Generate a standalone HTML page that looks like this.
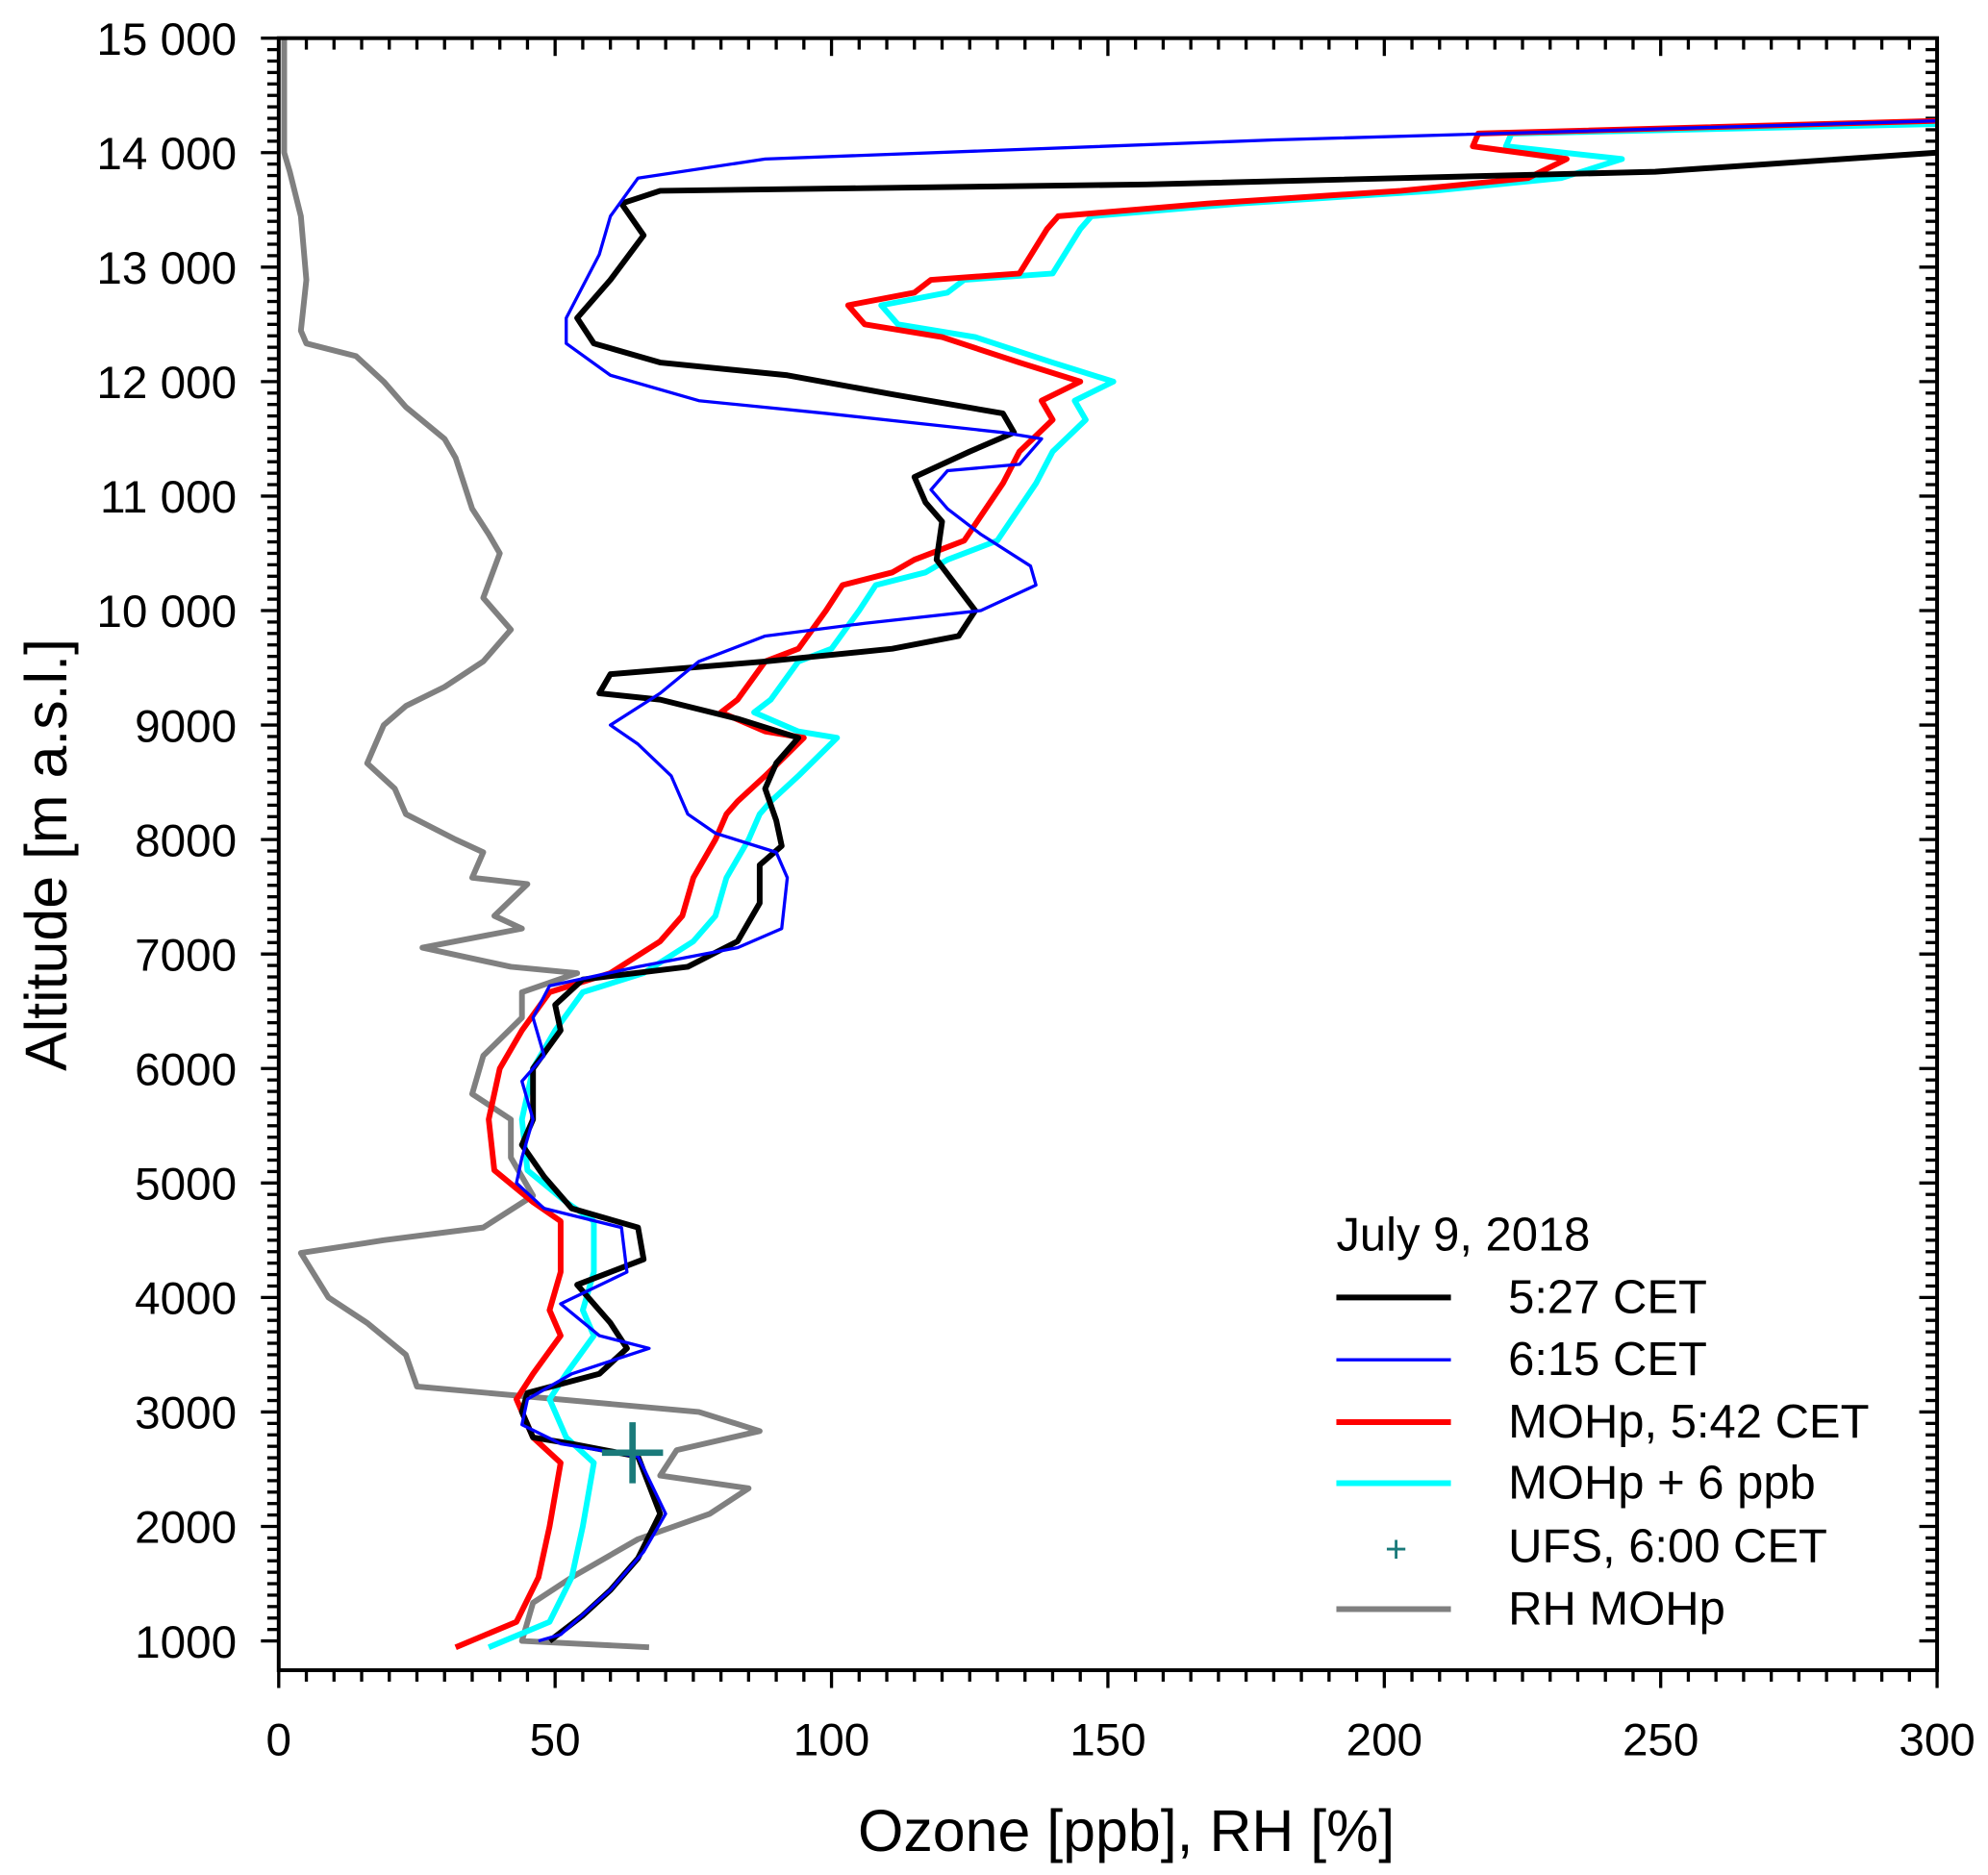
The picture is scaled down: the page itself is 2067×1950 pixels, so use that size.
<!DOCTYPE html>
<html><head><meta charset="utf-8"><style>
html,body{margin:0;padding:0;background:#fff;}
svg{display:block;font-family:"Liberation Sans",Arial,sans-serif;}
</style></head><body>
<svg id="chart" width="2067" height="1950" viewBox="0 0 1562 1474" preserveAspectRatio="none" xmlns="http://www.w3.org/2000/svg">
<defs><clipPath id="plotclip"><rect x="219" y="30" width="1303" height="1283"/></clipPath></defs>
<g id="grid-ticks"></g>
<g id="series" clip-path="url(#plotclip)"></g>
<rect x="219" y="30" width="1303" height="1283" fill="none" stroke="#000" stroke-width="3"/>
<g id="labels"></g>
<text x="885" y="1455" font-size="46" text-anchor="middle">Ozone [ppb], RH [%]</text>
<text transform="translate(52,672) rotate(-90)" font-size="46" text-anchor="middle">Altitude [m a.s.l.]</text>
<g id="legend" font-size="37">
<text x="1050" y="983">July 9, 2018</text>
<g><line x1="1050" y1="1020" x2="1140" y2="1020" stroke="#000" stroke-width="4.5"/><text x="1185" y="1032">5:27 CET</text></g>
<g><line x1="1050" y1="1069" x2="1140" y2="1069" stroke="#0000ff" stroke-width="2.5"/><text x="1185" y="1081">6:15 CET</text></g>
<g><line x1="1050" y1="1118" x2="1140" y2="1118" stroke="#ff0000" stroke-width="4.5"/><text x="1185" y="1130">MOHp, 5:42 CET</text></g>
<g><line x1="1050" y1="1166" x2="1140" y2="1166" stroke="#00ffff" stroke-width="4.5"/><text x="1185" y="1178">MOHp + 6 ppb</text></g>
<g><text x="1097" y="1228" text-anchor="middle" fill="#1a7a7a" font-size="30">+</text><text x="1185" y="1228">UFS, 6:00 CET</text></g>
<g><line x1="1050" y1="1265" x2="1140" y2="1265" stroke="#808080" stroke-width="4.5"/><text x="1185" y="1277">RH MOHp</text></g>
</g>
</svg>
<script>
const xTicks=[0,50,100,150,200,250,300];
const yTicks=[1000,2000,3000,4000,5000,6000,7000,8000,9000,10000,11000,12000,13000,14000,15000];
const yTickLabels=["1000","2000","3000","4000","5000","6000","7000","8000","9000","10 000","11 000","12 000","13 000","14 000","15 000"];
const black527=[[300,14000],[249,13833],[157,13722],[69,13667],[62,13556],[66,13278],[60,12889],[54,12556],[57,12333],[69,12167],[92,12056],[111,11889],[131,11722],[133,11556],[125,11389],[115,11167],[117,10944],[120,10778],[119,10444],[126,10000],[123,9778],[111,9667],[88,9556],[60,9444],[58,9278],[69,9222],[83,9056],[94,8889],[90,8667],[88,8444],[90,8167],[91,7944],[87,7778],[87,7444],[83,7111],[74,6889],[55,6778],[50,6556],[51,6333],[46,6000],[46,5556],[44,5333],[48,5056],[53,4778],[65,4611],[66,4333],[54,4111],[60,3778],[63,3556],[58,3333],[45,3167],[44,3000],[46,2778],[53,2722],[65,2611],[69,2111],[65,1722],[60,1444],[55,1222],[49,1000]];
const blue615=[[300,14278],[180,14111],[88,13944],[65,13778],[60,13444],[58,13111],[52,12556],[52,12333],[60,12056],[76,11833],[99,11722],[131,11556],[138,11500],[134,11278],[121,11222],[118,11056],[121,10889],[127,10667],[136,10389],[137,10222],[127,10000],[106,9889],[88,9778],[76,9556],[69,9278],[60,9000],[65,8833],[71,8556],[74,8222],[79,8056],[90,7889],[92,7667],[91,7222],[83,7056],[65,6889],[49,6722],[46,6444],[48,6111],[44,5889],[46,5556],[44,5222],[43,5000],[48,4778],[62,4611],[63,4222],[51,3944],[58,3667],[67,3556],[53,3333],[45,3111],[44,2889],[51,2722],[65,2611],[70,2111],[66,1778],[60,1444],[51,1056],[47,1000]];
const redMOHp=[[300,14278],[217,14167],[216,14056],[233,13944],[226,13778],[203,13667],[168,13556],[141,13444],[139,13333],[134,12944],[118,12889],[115,12778],[103,12667],[106,12500],[120,12389],[134,12167],[145,12000],[138,11833],[140,11667],[134,11389],[131,11111],[124,10611],[115,10444],[111,10333],[102,10222],[99,10000],[94,9667],[88,9556],[83,9222],[80,9111],[88,8944],[95,8889],[88,8556],[83,8333],[81,8222],[79,8000],[75,7667],[73,7333],[69,7111],[60,6833],[49,6667],[44,6333],[40,6000],[38,5556],[39,5111],[46,4833],[51,4667],[51,4222],[49,3889],[51,3667],[46,3333],[43,3111],[46,2778],[51,2556],[49,2000],[47,1556],[43,1167],[32,944]];
const cyanMOHp6=[[300,14250],[223,14167],[222,14056],[243,13944],[232,13778],[209,13667],[174,13556],[147,13444],[145,13333],[140,12944],[124,12889],[121,12778],[109,12667],[112,12500],[126,12389],[140,12167],[151,12000],[144,11833],[146,11667],[140,11389],[137,11111],[130,10611],[121,10444],[117,10333],[108,10222],[105,10000],[100,9667],[94,9556],[89,9222],[86,9111],[94,8944],[101,8889],[94,8556],[89,8333],[87,8222],[85,8000],[81,7667],[79,7333],[75,7111],[66,6833],[55,6667],[50,6333],[46,6000],[44,5556],[45,5111],[52,4833],[57,4667],[57,4222],[55,3889],[57,3667],[52,3333],[49,3111],[52,2778],[57,2556],[55,2000],[53,1556],[49,1167],[38,944]];
const rhMOHp=[[1,15000],[1,14000],[2,13833],[4,13444],[5,12889],[4,12444],[5,12333],[14,12222],[19,12000],[23,11778],[30,11500],[32,11333],[35,10889],[38,10667],[40,10500],[37,10111],[42,9833],[37,9556],[30,9333],[23,9167],[19,9000],[16,8667],[21,8444],[23,8222],[32,8000],[37,7889],[35,7667],[45,7611],[39,7333],[44,7222],[26,7056],[42,6889],[54,6833],[44,6667],[44,6444],[37,6111],[35,5778],[42,5556],[42,5222],[46,4889],[37,4611],[19,4500],[4,4389],[9,4000],[16,3778],[23,3500],[25,3222],[76,3000],[87,2833],[72,2667],[69,2444],[85,2333],[78,2111],[65,1889],[53,1556],[46,1333],[44,1000],[67,944]];
const ufsPoint=[64,2644];

const NS="http://www.w3.org/2000/svg";
function X(v){return 219+(v-0)*(1522-219)/300;}
function Y(a){return 30+(15000-a)*0.09;}
function mk(tag,attrs,parent){const e=document.createElementNS(NS,tag);for(const k in attrs)e.setAttribute(k,attrs[k]);parent.appendChild(e);return e;}
const ticks=document.getElementById('grid-ticks');
const labels=document.getElementById('labels');
for(let v=0;v<=300;v+=5){
  const major=v%50===0;
  const len=major?14:9;
  mk('line',{x1:X(v),x2:X(v),y1:1313,y2:1313+len,stroke:'#000','stroke-width':2.5},ticks);
  mk('line',{x1:X(v),x2:X(v),y1:30,y2:30+len,stroke:'#000','stroke-width':2.5},ticks);
}
for(let a=1000;a<=15000;a+=100){
  const major=a%1000===0;
  const len=major?14:9;
  mk('line',{x1:219-len,x2:219,y1:Y(a),y2:Y(a),stroke:'#000','stroke-width':2.5},ticks);
  mk('line',{x1:1522-len,x2:1522,y1:Y(a),y2:Y(a),stroke:'#000','stroke-width':2.5},ticks);
}
xTicks.forEach((v,i)=>{
  const t=mk('text',{x:X(v),y:1380,'font-size':36,'text-anchor':'middle'},labels);
  
  
  t.textContent=String(v);
});
yTicks.forEach((a,i)=>{
  const t=mk('text',{x:186,y:Y(a)+13,'font-size':36,'text-anchor':'end'},labels);
  
  
  t.textContent=yTickLabels[i];
});
const series=document.getElementById('series');
function line(data,color,w,name){
  const p=mk('polyline',{points:data.map(d=>X(d[0]).toFixed(1)+','+Y(d[1]).toFixed(1)).join(' '),fill:'none',stroke:color,'stroke-width':w,'stroke-linejoin':'round'},series);
  
  
}
line(rhMOHp,'#808080',4.5,'rh-mohp-line');
line(cyanMOHp6,'#00ffff',4.5,'mohp-plus6-line');
line(redMOHp,'#ff0000',4.5,'mohp-542-line');
line(black527,'#000000',4.5,'sonde-527-line');
line(blue615,'#0000ff',2.5,'sonde-615-line');
const ux=X(ufsPoint[0]),uy=Y(ufsPoint[1]);
const m=mk('path',{d:`M${ux-24},${uy}H${ux+24}M${ux},${uy-24}V${uy+24}`,stroke:'#1a7a7a','stroke-width':5},series);


</script>
</body></html>
